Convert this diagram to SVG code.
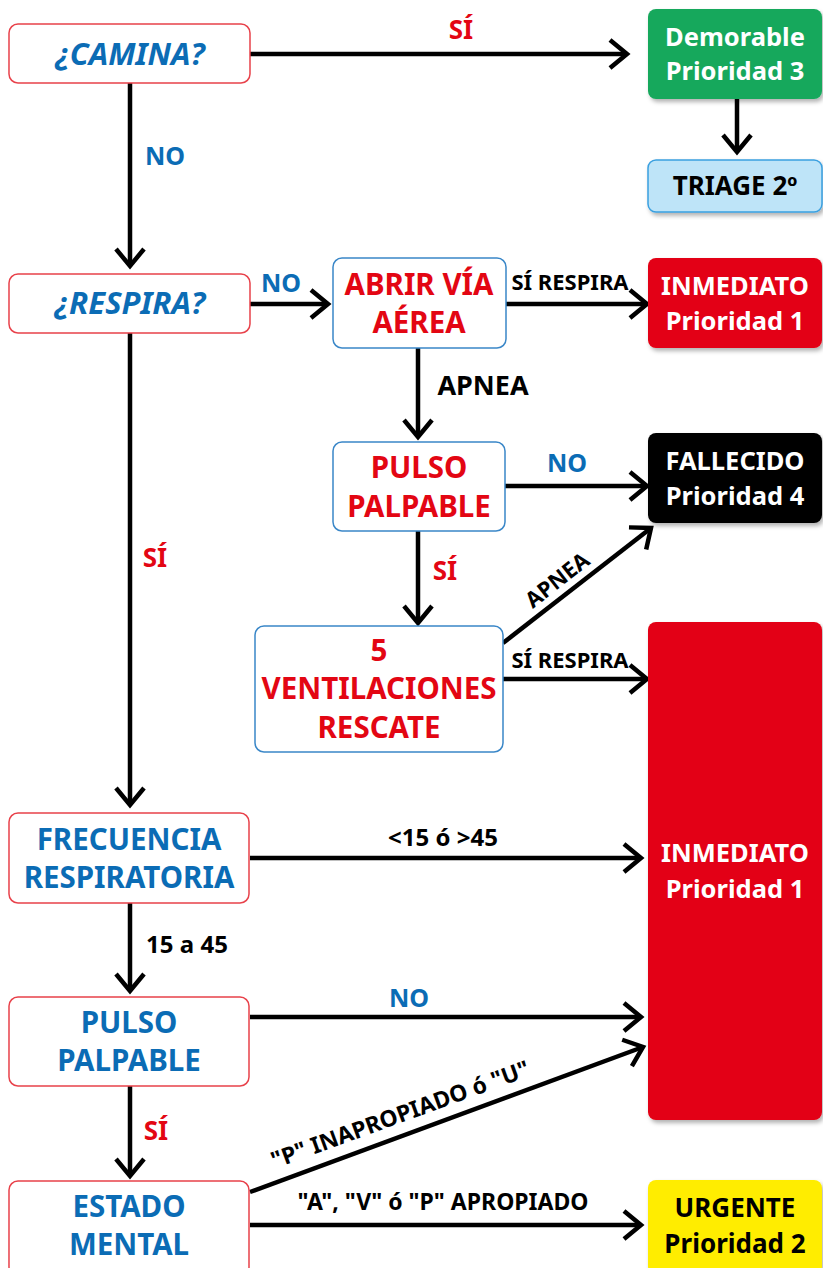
<svg xmlns="http://www.w3.org/2000/svg" width="823" height="1268" viewBox="0 0 823 1268">
<defs>
<marker id="ah" markerUnits="userSpaceOnUse" viewBox="-4 -18 26 36" refX="17" refY="0" markerWidth="26" markerHeight="36" orient="auto">
<path d="M0,-14 L17,0 L0,14" fill="none" stroke="#000" stroke-width="4.5"/>
</marker>
<filter id="sh" x="-10%" y="-10%" width="125%" height="125%">
<feDropShadow dx="2" dy="3" stdDeviation="2" flood-color="#000" flood-opacity="0.3"/>
</filter>
<style>
text{font-family:"Noto Sans","Liberation Sans",sans-serif;font-weight:bold;text-anchor:middle}
.q{fill:#fff;stroke:#e8414a;stroke-width:1.5}
.a{fill:#fff;stroke:#3a87c8;stroke-width:1.5}
.nt{font-size:29.5px}
.rt{font-size:25.5px;fill:#fff}
.blue{fill:#0b6cb5}
.red{fill:#e30613}
.blk{fill:#000}
.lbl{font-size:22px}
.ln{stroke:#000;stroke-width:4.5;fill:none;marker-end:url(#ah)}
</style>
</defs>
<rect width="823" height="1268" fill="#fff"/>

<g id="connectors">
<line class="ln" x1="250" y1="54" x2="627" y2="54"/>
<line class="ln" x1="130" y1="83" x2="130" y2="266"/>
<line class="ln" x1="737" y1="99" x2="737" y2="152"/>
<line class="ln" x1="250" y1="304" x2="328" y2="304"/>
<line class="ln" x1="506" y1="304" x2="647" y2="304"/>
<line class="ln" x1="418" y1="348" x2="418" y2="437"/>
<line class="ln" x1="505" y1="486" x2="647" y2="486"/>
<line class="ln" x1="418" y1="531" x2="418" y2="623"/>
<line class="ln" x1="503" y1="643" x2="651" y2="528"/>
<line class="ln" x1="503" y1="679" x2="647" y2="679"/>
<line class="ln" x1="130" y1="333" x2="130" y2="805"/>
<line class="ln" x1="250" y1="858" x2="641" y2="858"/>
<line class="ln" x1="130" y1="903" x2="130" y2="991"/>
<line class="ln" x1="250" y1="1017" x2="641" y2="1017"/>
<line class="ln" x1="130" y1="1086" x2="130" y2="1176"/>
<line class="ln" x1="250" y1="1192" x2="643" y2="1047"/>
<line class="ln" x1="250" y1="1225" x2="641" y2="1225"/>

<text class="red" x="461" y="39" font-size="26">SÍ</text>
<text class="blue" x="165" y="165" font-size="25">NO</text>
<text class="blue" x="281" y="292" font-size="25">NO</text>
<text class="blk lbl" x="570" y="290">SÍ RESPIRA</text>
<text class="blk" x="483" y="395" font-size="27">APNEA</text>
<text class="blue" x="567" y="472" font-size="25">NO</text>
<text class="red" x="445" y="580" font-size="26">SÍ</text>
<text class="blk lbl" transform="translate(562,586) rotate(-38)" x="0" y="0">APNEA</text>
<text class="blk lbl" x="570" y="668">SÍ RESPIRA</text>
<text class="red" x="155" y="567" font-size="26">SÍ</text>
<text class="blk" x="443" y="846" font-size="24">&lt;15 ó &gt;45</text>
<text class="blk" x="187" y="953" font-size="24">15 a 45</text>
<text class="blue" x="409" y="1007" font-size="25">NO</text>
<text class="red" x="156" y="1140" font-size="26">SÍ</text>
<text class="blk" transform="translate(403,1122) rotate(-20)" x="0" y="0" font-size="23">"P" INAPROPIADO ó "U"</text>
<text class="blk" x="443" y="1210" font-size="23">"A", "V" ó "P" APROPIADO</text>
</g>

<g id="camina">
<rect class="q" x="9" y="24" width="241" height="59" rx="9"/>
<text class="blue" x="130" y="65" font-size="31" font-style="italic">¿CAMINA?</text>
</g>
<g id="demorable">
<rect x="648" y="9" width="174" height="90" rx="8" fill="#17a85b" filter="url(#sh)"/>
<text class="rt" x="735" y="46">Demorable</text>
<text class="rt" x="735" y="80">Prioridad 3</text>
</g>
<g id="triage">
<rect x="648" y="160" width="174" height="52" rx="8" fill="#bee4f8" stroke="#3aa0e0" stroke-width="1.5" filter="url(#sh)"/>
<text class="blk" x="735" y="195" font-size="26">TRIAGE 2º</text>
</g>
<g id="respira">
<rect class="q" x="9" y="274" width="241" height="59" rx="9"/>
<text class="blue" x="130" y="314" font-size="31" font-style="italic">¿RESPIRA?</text>
</g>
<g id="abrir">
<rect class="a" x="333" y="258" width="173" height="90" rx="9"/>
<text class="nt red" x="419" y="295">ABRIR VÍA</text>
<text class="nt red" x="419" y="333">AÉREA</text>
</g>
<g id="inmediato1">
<rect x="648" y="258" width="174" height="90" rx="8" fill="#e30613" filter="url(#sh)"/>
<text class="rt" x="735" y="295">INMEDIATO</text>
<text class="rt" x="735" y="330">Prioridad 1</text>
</g>
<g id="pulso1">
<rect class="a" x="333" y="442" width="172" height="89" rx="9"/>
<text class="nt red" x="419" y="478">PULSO</text>
<text class="nt red" x="419" y="517">PALPABLE</text>
</g>
<g id="fallecido">
<rect x="648" y="433" width="174" height="90" rx="8" fill="#000" filter="url(#sh)"/>
<text class="rt" x="735" y="470">FALLECIDO</text>
<text class="rt" x="735" y="505">Prioridad 4</text>
</g>
<g id="ventilaciones">
<rect class="a" x="255" y="626" width="248" height="126" rx="9"/>
<text class="nt red" x="379" y="661">5</text>
<text class="nt red" x="379" y="699">VENTILACIONES</text>
<text class="nt red" x="379" y="738">RESCATE</text>
</g>
<g id="inmediato2">
<rect x="648" y="622" width="174" height="498" rx="8" fill="#e30613" filter="url(#sh)"/>
<text class="rt" x="735" y="862">INMEDIATO</text>
<text class="rt" x="735" y="898">Prioridad 1</text>
</g>
<g id="frecuencia">
<rect class="q" x="9" y="813" width="240" height="90" rx="9"/>
<text class="nt blue" x="129" y="850">FRECUENCIA</text>
<text class="nt blue" x="129" y="888">RESPIRATORIA</text>
</g>
<g id="pulso2">
<rect class="q" x="9" y="997" width="240" height="89" rx="9"/>
<text class="nt blue" x="129" y="1033">PULSO</text>
<text class="nt blue" x="129" y="1071">PALPABLE</text>
</g>
<g id="estado">
<rect class="q" x="9" y="1181" width="240" height="95" rx="9"/>
<text class="nt blue" x="129" y="1217">ESTADO</text>
<text class="nt blue" x="129" y="1255">MENTAL</text>
</g>
<g id="urgente">
<rect x="648" y="1180" width="174" height="95" rx="8" fill="#ffed00" filter="url(#sh)"/>
<text class="blk" x="735" y="1217" font-size="26">URGENTE</text>
<text class="blk" x="735" y="1253" font-size="26">Prioridad 2</text>
</g>
</svg>
